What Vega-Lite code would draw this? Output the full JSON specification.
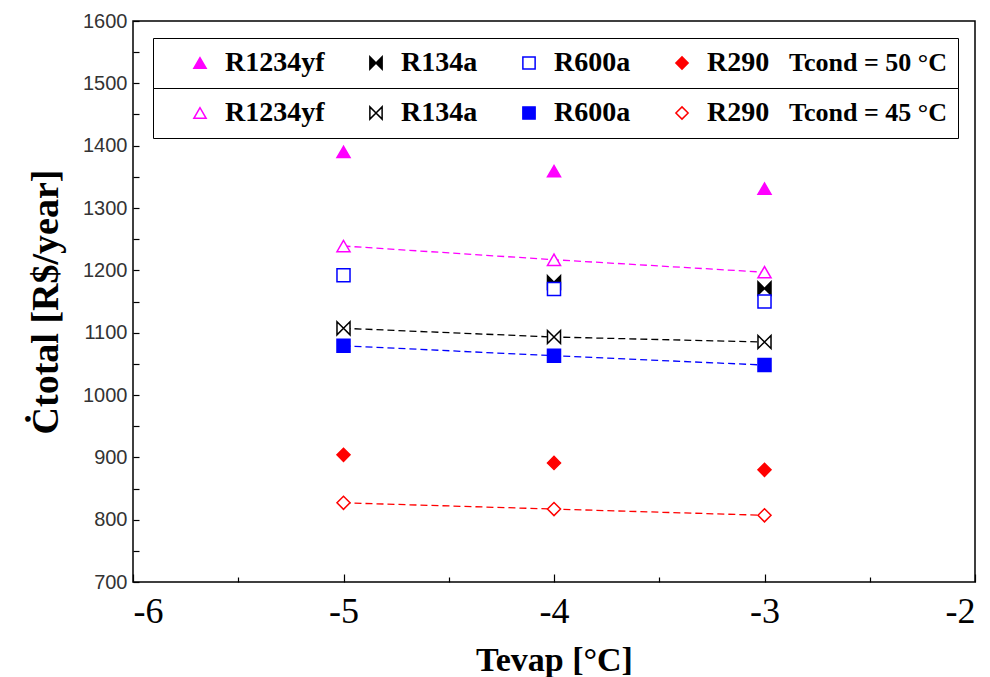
{
  "$schema": "https://vega.github.io/schema/vega-lite/v6.json",
  "width": 842,
  "height": 561,
  "autosize": {"type": "none"},
  "padding": {"left": 133, "top": 21, "right": 15, "bottom": 95},
  "background": "white",
  "config": {
    "view": {"stroke": "black", "strokeWidth": 1.5},
    "axis": {"grid": false, "domain": false, "tickColor": "black", "tickWidth": 1.2}
  },
  "data": {
    "values": [
      {"T": -5, "fluid": "R1234yf", "cond": "50", "C": 1390},
      {"T": -4, "fluid": "R1234yf", "cond": "50", "C": 1359},
      {"T": -3, "fluid": "R1234yf", "cond": "50", "C": 1331},
      {"T": -4, "fluid": "R134a", "cond": "50", "C": 1181},
      {"T": -3, "fluid": "R134a", "cond": "50", "C": 1171},
      {"T": -5, "fluid": "R600a", "cond": "50", "C": 1192},
      {"T": -4, "fluid": "R600a", "cond": "50", "C": 1170},
      {"T": -3, "fluid": "R600a", "cond": "50", "C": 1150},
      {"T": -5, "fluid": "R290", "cond": "50", "C": 904},
      {"T": -4, "fluid": "R290", "cond": "50", "C": 891},
      {"T": -3, "fluid": "R290", "cond": "50", "C": 880},
      {"T": -5, "fluid": "R1234yf", "cond": "45", "C": 1239},
      {"T": -4, "fluid": "R1234yf", "cond": "45", "C": 1217},
      {"T": -3, "fluid": "R1234yf", "cond": "45", "C": 1197},
      {"T": -5, "fluid": "R134a", "cond": "45", "C": 1107},
      {"T": -4, "fluid": "R134a", "cond": "45", "C": 1093},
      {"T": -3, "fluid": "R134a", "cond": "45", "C": 1085},
      {"T": -5, "fluid": "R600a", "cond": "45", "C": 1079},
      {"T": -4, "fluid": "R600a", "cond": "45", "C": 1063},
      {"T": -3, "fluid": "R600a", "cond": "45", "C": 1048},
      {"T": -5, "fluid": "R290", "cond": "45", "C": 827},
      {"T": -4, "fluid": "R290", "cond": "45", "C": 817},
      {"T": -3, "fluid": "R290", "cond": "45", "C": 807}
    ]
  },
  "encoding": {
    "x": {
      "field": "T",
      "type": "quantitative",
      "scale": {"domain": [-6, -2], "nice": false, "zero": false},
      "axis": {
        "values": [-6, -5.5, -5, -4.5, -4, -3.5, -3, -2.5, -2],
        "labelExpr": "datum.value % 1 === 0 ? '-' + abs(datum.value) : ''",
        "labelFont": "Liberation Serif",
        "labelFontSize": 36,
        "labelColor": "black",
        "labelPadding": 20,
        "tickSize": {"condition": {"test": "datum.value % 1 === 0", "value": -8}, "value": -5},
        "title": "Tevap [°C]",
        "titleFont": "Liberation Serif",
        "titleFontSize": 34,
        "titleFontWeight": "bold",
        "titleColor": "black",
        "titlePadding": 14
      }
    },
    "y": {
      "field": "C",
      "type": "quantitative",
      "scale": {"domain": [700, 1600], "nice": false, "zero": false},
      "axis": {
        "values": [700, 750, 800, 850, 900, 950, 1000, 1050, 1100, 1150, 1200, 1250, 1300, 1350, 1400, 1450, 1500, 1550, 1600],
        "format": "d",
        "labelExpr": "datum.value % 100 === 0 ? datum.label : ''",
        "labelFont": "Liberation Sans",
        "labelFontSize": 20,
        "labelColor": "#333333",
        "labelPadding": 12,
        "tickSize": -6,
        "title": "Ċtotal  [R$/year]",
        "titleFont": "Liberation Serif",
        "titleFontSize": 38,
        "titleFontWeight": "bold",
        "titleColor": "black",
        "titlePadding": 17
      }
    }
  },
  "layer": [
    {
      "transform": [{"filter": "datum.cond === '50'"}],
      "mark": {"type": "point", "size": 170, "strokeWidth": 1.5, "opacity": 1},
      "encoding": {
        "shape": {
          "field": "fluid",
          "type": "nominal",
          "scale": {"domain": ["R1234yf", "R134a", "R600a", "R290"], "range": ["triangle-up", "M-1,-1L0,0L-1,1Z M1,-1L0,0L1,1Z", "square", "diamond"]},
          "legend": {
            "orient": "none",
            "legendX": 20,
            "legendY": 17,
            "direction": "horizontal",
            "columns": 4,
            "title": "Tcond = 50 °C",
            "titleOrient": "right",
            "titleFont": "Liberation Serif",
            "titleFontSize": 26,
            "titleFontWeight": "bold",
            "titleColor": "black",
            "titlePadding": 20,
            "labelFont": "Liberation Serif",
            "labelFontSize": 28,
            "labelFontWeight": "bold",
            "labelColor": "black",
            "labelOffset": 11,
            "labelLimit": 300,
            "symbolOffset": 22,
            "symbolSize": 150,
            "symbolStrokeWidth": 1.5,
            "columnPadding": 15,
            "padding": 11,
            "strokeColor": "black"
          }
        },
        "stroke": {
          "field": "fluid",
          "type": "nominal",
          "scale": {"domain": ["R1234yf", "R134a", "R600a", "R290"], "range": ["#ff00ff", "#000000", "#0000ff", "#ff0000"]}
        },
        "fill": {
          "field": "fluid",
          "type": "nominal",
          "scale": {"domain": ["R1234yf", "R134a", "R600a", "R290"], "range": ["#ff00ff", "#000000", "#ffffff", "#ff0000"]}
        }
      }
    },
    {
      "transform": [{"filter": "datum.cond === '45'"}],
      "mark": {"type": "line", "strokeDash": [7, 4], "strokeWidth": 1.3},
      "encoding": {
        "stroke": {
          "field": "fluid",
          "type": "nominal",
          "scale": {"domain": ["R1234yf", "R134a", "R600a", "R290"], "range": ["#ff00ff", "#000000", "#0000ff", "#ff0000"]},
          "legend": null
        }
      }
    },
    {
      "transform": [{"filter": "datum.cond === '45'"}],
      "mark": {"type": "point", "size": 170, "strokeWidth": 1.5, "opacity": 1},
      "encoding": {
        "shape": {
          "field": "fluid",
          "type": "nominal",
          "scale": {"domain": ["R1234yf", "R134a", "R600a", "R290"], "range": ["triangle-up", "M-1,-1L0,0L-1,1Z M1,-1L0,0L1,1Z", "square", "diamond"]},
          "legend": {
            "orient": "none",
            "legendX": 20,
            "legendY": 67,
            "direction": "horizontal",
            "columns": 4,
            "title": "Tcond = 45 °C",
            "titleOrient": "right",
            "titleFont": "Liberation Serif",
            "titleFontSize": 26,
            "titleFontWeight": "bold",
            "titleColor": "black",
            "titlePadding": 20,
            "labelFont": "Liberation Serif",
            "labelFontSize": 28,
            "labelFontWeight": "bold",
            "labelColor": "black",
            "labelOffset": 11,
            "labelLimit": 300,
            "symbolOffset": 22,
            "symbolSize": 150,
            "symbolStrokeWidth": 1.5,
            "columnPadding": 15,
            "padding": 11,
            "strokeColor": "black"
          }
        },
        "stroke": {
          "field": "fluid",
          "type": "nominal",
          "scale": {"domain": ["R1234yf", "R134a", "R600a", "R290"], "range": ["#ff00ff", "#000000", "#0000ff", "#ff0000"]}
        },
        "fill": {
          "field": "fluid",
          "type": "nominal",
          "scale": {"domain": ["R1234yf", "R134a", "R600a", "R290"], "range": ["#ffffff", "#ffffff", "#0000ff", "#ffffff"]}
        }
      }
    }
  ],
  "resolve": {"scale": {"fill": "independent", "stroke": "independent", "shape": "independent"}}
}
